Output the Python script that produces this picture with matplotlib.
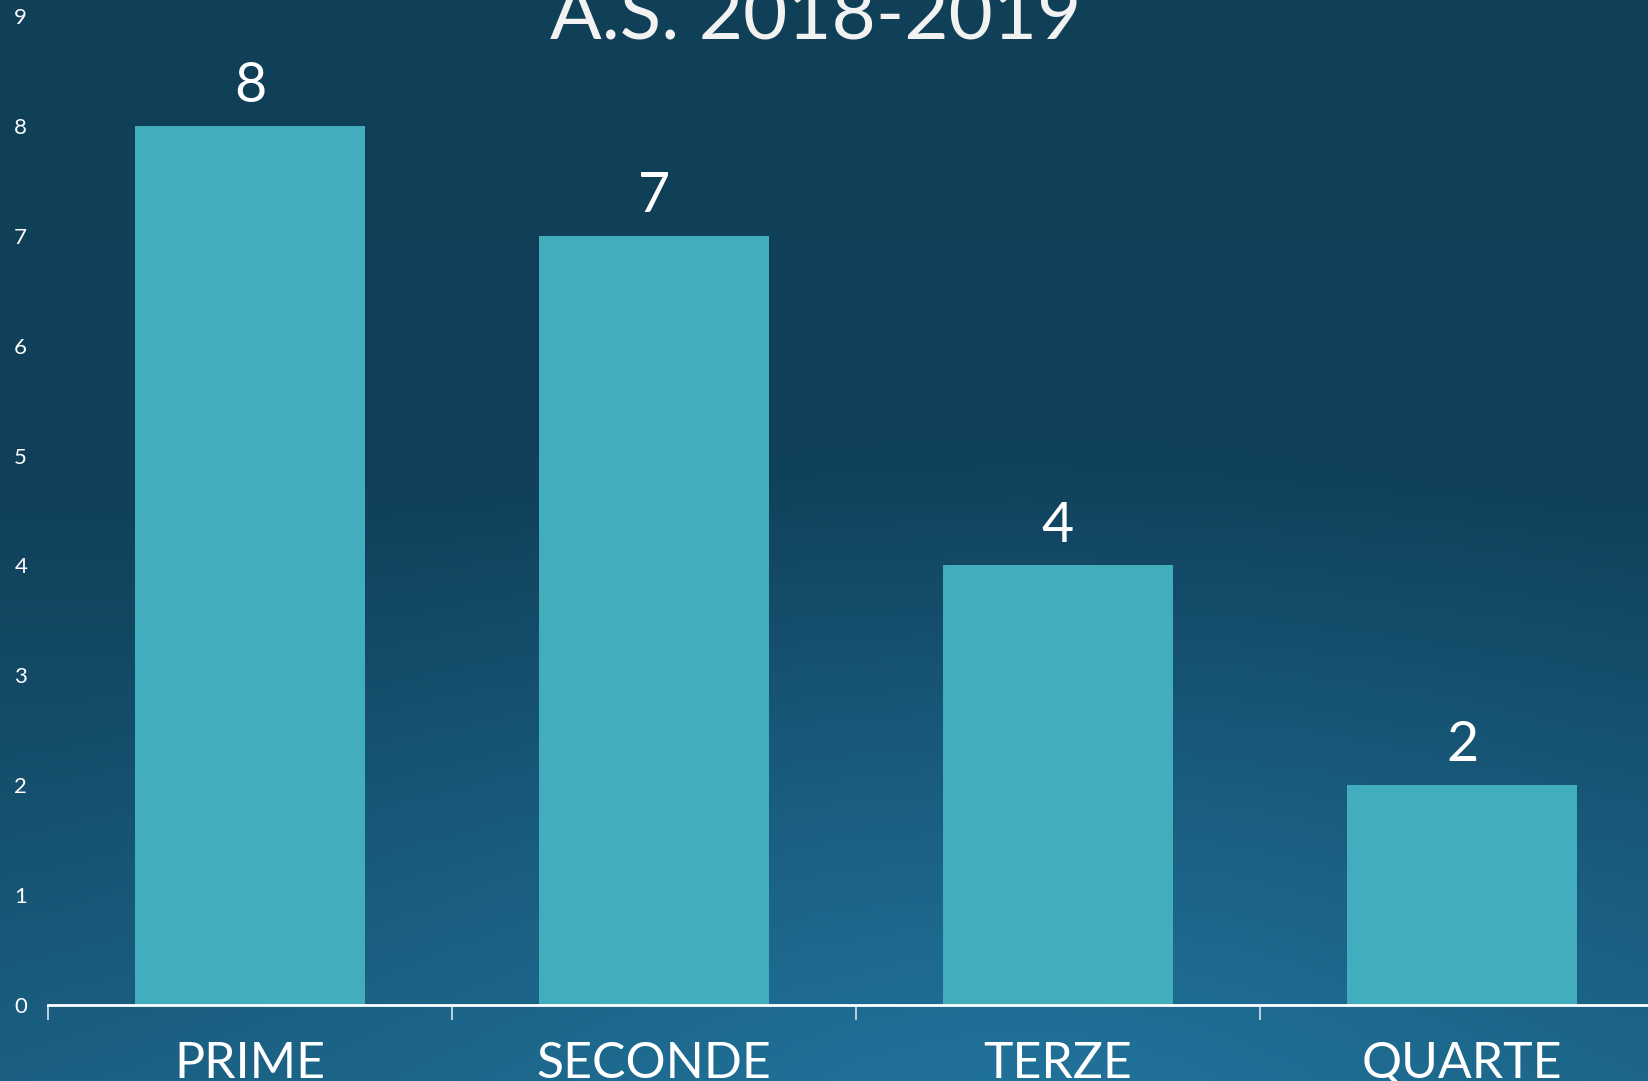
import numpy as np
import matplotlib
matplotlib.use("Agg")
import matplotlib.pyplot as plt
from matplotlib.colors import to_rgb

categories = ["PRIME", "SECONDE", "TERZE", "QUARTE"]
values = [8, 7, 4, 2]
yticks = list(range(0, 10))
title = "A.S. 2018-2019"

W, H = 1649, 1081
fig = plt.figure(figsize=(W / 100, H / 100), dpi=100)

# background gradient
bg = fig.add_axes([0, 0, 1, 1], zorder=-10)
bg.set_axis_off()
yy, xx = np.mgrid[0:1:300j, 0:1:450j]
top = np.array(to_rgb("#113f58"))
mid = np.array(to_rgb("#10405a"))
bot = np.array(to_rgb("#1a5e7f"))
glow = np.array(to_rgb("#2276a0"))
t = yy[..., None]
base = np.where(t < 0.45, top + (mid - top) * (t / 0.45),
                mid + (bot - mid) * ((t - 0.45) / 0.55))
d = np.sqrt(((xx - 0.62) / 0.75) ** 2 + ((yy - 1.1) / 0.75) ** 2)
w = np.clip(1 - d, 0, 1)[..., None] ** 1.5
img = base * (1 - w) + glow * w
bg.imshow(img, aspect="auto", extent=[0, 1, 0, 1], origin="upper")

left = 48 / W
width = 1616 / W
bottom = (H - 1005) / H
height = 9 * 109.9 / H
ax = fig.add_axes([left, bottom, width, height])
ax.set_facecolor("none")
x = np.arange(len(categories))
bars = ax.bar(x, values, width=0.57, color="#41adbd", zorder=2)
ax.set_xlim(-0.5, len(categories) - 0.5)
ax.set_ylim(0, 9)

for s in ["top", "right", "left"]:
    ax.spines[s].set_visible(False)
ax.spines["bottom"].set_color("white")
ax.spines["bottom"].set_linewidth(2)
ax.spines["bottom"].set_zorder(3)

ax.set_yticks(yticks)
ax.tick_params(axis="y", length=0, pad=15, labelsize=16, labelcolor="white")
for lab in ax.get_yticklabels():
    lab.set_fontfamily("Lato")

ax.set_xticks(np.arange(-0.5, len(categories), 1.0))
ax.set_xticklabels([])
ax.tick_params(axis="x", which="major", length=11, width=1.2, color="#d8e4ea", direction="out")
ax.set_xticks(x, minor=True)
ax.set_xticklabels(categories, minor=True, fontsize=36, color="white", fontfamily="Lato")
ax.tick_params(axis="x", which="minor", length=0, pad=26)

for xi, v in zip(x, values):
    ax.annotate(str(v), (xi, v), xytext=(0, 10), textcoords="offset points",
                ha="center", va="bottom", fontsize=40, color="white", fontfamily="Lato")

fig.text(816 / W, 1 - 40 / H, title, ha="center", va="baseline", fontsize=55,
         color="#f2f2f2", fontfamily="Lato")

fig.savefig("out.png", dpi=100)
